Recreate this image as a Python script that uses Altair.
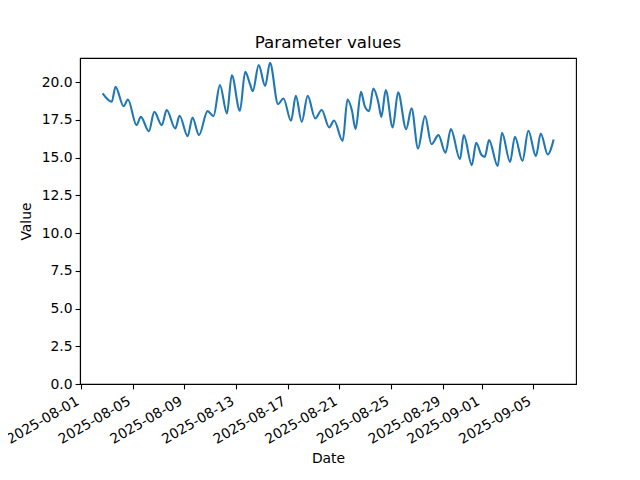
import altair as alt
import pandas as pd

times = [
    "2025-08-02T16:00", "2025-08-03T09:00", "2025-08-03T16:00", "2025-08-04T07:00",
    "2025-08-04T15:00", "2025-08-05T07:00", "2025-08-05T15:00", "2025-08-06T06:00",
    "2025-08-06T16:00", "2025-08-07T06:00", "2025-08-07T15:00", "2025-08-08T07:00",
    "2025-08-08T15:00", "2025-08-09T06:00", "2025-08-09T15:00", "2025-08-10T03:00",
    "2025-08-10T19:00", "2025-08-11T06:00", "2025-08-11T18:00", "2025-08-12T07:00",
    "2025-08-12T16:00", "2025-08-13T07:00", "2025-08-13T17:00", "2025-08-14T02:00",
    "2025-08-14T07:00", "2025-08-14T18:00", "2025-08-15T06:00", "2025-08-15T15:00",
    "2025-08-16T06:00", "2025-08-16T16:00", "2025-08-17T06:00", "2025-08-17T15:00",
    "2025-08-18T02:00", "2025-08-18T13:00", "2025-08-19T03:00", "2025-08-19T15:00",
    "2025-08-20T05:00", "2025-08-20T14:00", "2025-08-21T06:00", "2025-08-21T15:00",
    "2025-08-21T23:00", "2025-08-22T06:00", "2025-08-22T16:00", "2025-08-22T23:00",
    "2025-08-23T07:00", "2025-08-23T15:00", "2025-08-24T00:00", "2025-08-24T06:00",
    "2025-08-24T14:00", "2025-08-25T03:00", "2025-08-25T13:00", "2025-08-26T04:00",
    "2025-08-26T14:00", "2025-08-27T02:00", "2025-08-27T15:00", "2025-08-28T03:00",
    "2025-08-28T16:00", "2025-08-29T05:00", "2025-08-29T15:00", "2025-08-30T08:00",
    "2025-08-30T15:00", "2025-08-31T06:00", "2025-08-31T14:00", "2025-09-01T00:00",
    "2025-09-01T06:00", "2025-09-01T14:00", "2025-09-02T06:00", "2025-09-02T14:00",
    "2025-09-03T05:00", "2025-09-03T14:00", "2025-09-04T04:00", "2025-09-04T15:00",
    "2025-09-05T05:00", "2025-09-05T14:00", "2025-09-06T03:00", "2025-09-06T14:00",
]
values = [
    19.25, 18.70, 19.69, 18.40,
    18.85, 17.15, 17.70, 16.75,
    18.03, 17.15, 18.15, 16.93,
    17.77, 16.42, 17.66, 16.49,
    18.08, 17.75, 19.80, 17.93,
    20.46, 18.10, 20.68, 19.85,
    19.40, 21.13, 19.74, 21.28,
    18.54, 18.92, 17.44, 19.09,
    17.37, 19.09, 17.60, 18.15,
    17.00, 17.46, 16.10, 18.85,
    18.15, 16.89, 19.36, 18.41,
    18.08, 19.58, 18.70, 17.70,
    19.47, 17.00, 19.32, 16.89,
    18.26, 15.61, 17.75, 15.89,
    16.49, 15.32, 16.89, 14.90,
    16.49, 14.50, 15.98, 15.17,
    15.05, 16.16, 14.44, 16.64,
    14.72, 16.38, 14.79, 16.78,
    15.10, 16.60, 15.21, 16.20,
]

tick_dates = [(8, 1), (8, 5), (8, 9), (8, 13), (8, 17), (8, 21), (8, 25), (8, 29), (9, 1), (9, 5)]
y_ticks = [0, 2.5, 5, 7.5, 10, 12.5, 15, 17.5, 20]

df = pd.DataFrame({"Date": times, "Value": values})

FONT = "DejaVu Sans"

chart = (
    alt.Chart(df)
    .mark_line(color="#1f77b4", strokeWidth=2.1, interpolate="monotone")
    .encode(
        x=alt.X(
            "Date:T",
            title="Date",
            scale=alt.Scale(
                domain=[
                    alt.DateTime(year=2025, month=7, date=31, hours=22),
                    alt.DateTime(year=2025, month=9, date=8, hours=7, minutes=30),
                ],
                nice=False,
            ),
            axis=alt.Axis(
                values=[alt.DateTime(year=2025, month=m, date=d) for m, d in tick_dates],
                format="%Y-%m-%d",
                labelAngle=-30,
                labelAlign="right",
                labelBaseline="bottom",
                labelPadding=17,
                labelOverlap=False,
                labelBound=False,
                labelFlush=False,
                titlePadding=5,
                grid=False,
            ),
        ),
        y=alt.Y(
            "Value:Q",
            title="Value",
            scale=alt.Scale(domain=[0, 21.6], nice=False, zero=True),
            axis=alt.Axis(values=y_ticks, format=".1f", grid=False, titlePadding=8, labelPadding=3),
        ),
    )
    .properties(
        width=496,
        height=326,
        title=alt.TitleParams("Parameter values", font=FONT, fontSize=16.7, fontWeight="normal", offset=6, color="black"),
        autosize=alt.AutoSizeParams(type="none"),
        padding={"left": 72, "top": 50, "right": 56, "bottom": 88},
    )
    .configure_view(stroke="black", strokeWidth=1.1)
    .configure_axis(
        labelFont=FONT,
        titleFont=FONT,
        labelFontSize=13.9,
        titleFontSize=13.9,
        titleFontWeight="normal",
        labelColor="black",
        titleColor="black",
        domainColor="black",
        domainWidth=1.1,
        tickColor="black",
        tickWidth=1.1,
        tickSize=4.9,
    )
)

chart.save("out.html", embed_options={"renderer": "svg", "actions": False})
